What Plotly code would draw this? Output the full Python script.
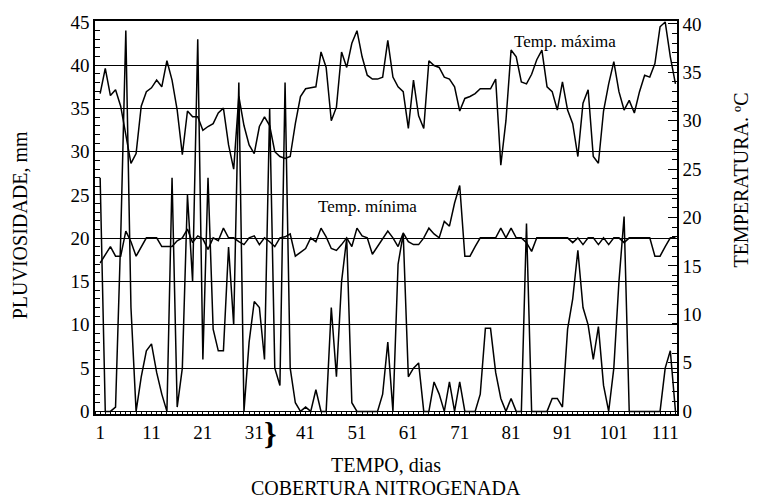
import plotly.graph_objects as go

# dias 1..113
dias = list(range(1, 114))

# pluviosidade, mm (eixo esquerdo)
chuva = [27, 0, 0, 0.5, 20, 44, 12, 0, 4, 7,
         7.8, 4.5, 2, 0, 27, 0.5, 5, 25, 15, 43,
         6, 27, 9.5, 7, 7, 19, 10, 38, 0, 8,
         12.7, 12, 6, 35, 5, 3, 38, 5, 1, 0,
         0.5, 0, 2.5, 0, 0, 12, 4, 15, 20, 1,
         0, 0, 0, 0, 0, 2, 8, 0, 17, 20.5,
         4, 5, 5.6, 0, 0, 3.4, 2, 0, 3.4, 0,
         3.4, 0, 0, 0, 2, 9.6, 9.6, 4.5, 1.5, 0,
         1.5, 0, 0, 21.7, 0, 0, 0, 0, 1.5, 1.5,
         0.5, 9.5, 13, 18.6, 12, 10, 6, 9.8, 3, 0,
         5, 15, 22.5, 0, 0, 0, 0, 0, 0, 0,
         5, 7, 0]

# temperatura maxima, C (eixo direito)
t_max = [32.8, 35.4, 32.6, 33.2, 31.5, 28.5, 25.6, 26.6, 31.5, 33.0,
         33.4, 34.2, 33.5, 36.2, 34.2, 31.1, 26.5, 31.0, 30.4, 30.4,
         29.0, 29.4, 29.7, 30.8, 31.3, 27.5, 25.0, 32.5, 29.5, 27.5,
         26.6, 29.4, 30.4, 29.5, 26.8, 26.3, 26.1, 26.3, 29.7, 32.5,
         33.3, 33.4, 33.5, 37.1, 35.5, 30.0, 31.4, 37.1, 35.5, 38.0,
         39.3, 36.6, 34.7, 34.3, 34.3, 34.5, 38.3, 34.5, 33.5, 33.0,
         29.2, 34.2, 30.5, 29.2, 36.2, 35.7, 35.5, 34.5, 34.3, 33.5,
         31.0, 32.3, 32.5, 32.8, 33.3, 33.3, 33.3, 34.3, 25.4, 30.0,
         37.3, 36.6, 34.0, 33.8, 34.8, 36.3, 37.3, 33.5, 33.0, 31.1,
         34.0, 31.1, 29.7, 26.3, 31.8, 33.2, 26.3, 25.6, 31.0, 33.8,
         36.1, 33.0, 31.1, 32.1, 30.8, 33.0, 34.7, 34.5, 35.9, 39.7,
         40.2, 36.6, 33.8]

# temperatura minima, C (eixo direito)
t_min = [15.3, 16.2, 17.0, 16.0, 16.0, 18.6, 17.5, 16.0, 17.0, 17.9,
         17.9, 17.9, 17.0, 17.0, 17.0, 17.6, 17.9, 18.8, 17.4, 18.1,
         17.8, 16.7, 17.9, 17.6, 18.9, 17.9, 17.9, 17.5, 17.2, 17.9,
         18.1, 17.2, 17.9, 17.5, 17.0, 17.9, 18.0, 18.3, 16.0, 16.4,
         16.8, 17.9, 17.5, 18.9, 18.0, 16.8, 16.6, 17.2, 17.9, 17.0,
         18.9, 18.1, 17.9, 16.2, 17.0, 17.9, 18.6, 17.9, 17.0, 18.4,
         17.5, 17.2, 17.2, 17.9, 18.9, 18.3, 17.9, 19.6, 19.1, 21.5,
         23.3, 16.0, 16.0, 17.0, 17.9, 17.9, 17.9, 17.9, 18.9, 17.9,
         18.9, 17.9, 17.9, 17.4, 16.5, 17.9, 17.9, 17.9, 17.9, 17.9,
         17.9, 17.9, 17.4, 17.9, 17.2, 17.9, 17.9, 17.2, 17.9, 17.2,
         17.9, 17.9, 17.4, 17.9, 17.9, 17.9, 17.9, 17.9, 16.0, 16.0,
         17.0, 17.9, 17.9]

x_ticks = [1, 11, 21, 31, 41, 51, 61, 71, 81, 91, 101, 111]
y_ticks = [0, 5, 10, 15, 20, 25, 30, 35, 40, 45]
y2_ticks = [0, 5, 10, 15, 20, 25, 30, 35, 40]

serif = "Liberation Serif, DejaVu Serif, serif"

fig = go.Figure()
fig.add_trace(go.Scatter(x=dias, y=chuva, mode="lines",
                         line=dict(color="black", width=1.5), yaxis="y"))
fig.add_trace(go.Scatter(x=dias, y=t_max, mode="lines",
                         line=dict(color="black", width=1.5), yaxis="y2"))
fig.add_trace(go.Scatter(x=dias, y=t_min, mode="lines",
                         line=dict(color="black", width=1.5), yaxis="y2"))

fig.update_layout(
    width=758, height=498,
    margin=dict(l=95, r=81, t=17, b=84),
    paper_bgcolor="white", plot_bgcolor="white",
    showlegend=False,
    font=dict(family=serif, size=17, color="black"),
    xaxis=dict(range=[0, 113.3], tickvals=x_ticks, ticks="",
               showgrid=False, zeroline=False,
               showline=True, linecolor="black", linewidth=1.5, mirror=True,
               minor=dict(ticks="inside", dtick=1, tick0=0, ticklen=3,
                          tickcolor="black"),
               tickfont=dict(family=serif, size=19)),
    yaxis=dict(range=[-0.3, 45.1], tickvals=y_ticks, ticks="inside",
               ticklen=6, tickcolor="black",
               showgrid=True, gridcolor="black", gridwidth=1.3,
               zeroline=False,
               showline=True, linecolor="black", linewidth=1.5,
               minor=dict(ticks="inside", dtick=1, ticklen=5,
                          tickcolor="black", showgrid=False),
               tickfont=dict(family=serif, size=19)),
    yaxis2=dict(range=[-0.3, 40.3], tickvals=y2_ticks, ticks="inside",
                ticklen=9, tickcolor="black", overlaying="y", side="right",
                showgrid=False, zeroline=False,
                showline=True, linecolor="black", linewidth=1.5,
                minor=dict(ticks="inside", dtick=1, ticklen=5,
                           tickcolor="black"),
                tickfont=dict(family=serif, size=19)),
)

# textos
fig.add_annotation(text="PLUVIOSIDADE, mm", xref="paper", yref="paper",
                   x=-0.129, y=0.48, textangle=-90, showarrow=False,
                   xanchor="center", yanchor="middle",
                   font=dict(family=serif, size=20))
fig.add_annotation(text="TEMPERATURA. ºC", xref="paper", yref="paper",
                   x=1.11, y=0.594, textangle=-90, showarrow=False,
                   xanchor="center", yanchor="middle",
                   font=dict(family=serif, size=20))
fig.add_annotation(text="TEMPO, dias", xref="paper", yref="paper",
                   x=0.5, y=-0.131, showarrow=False,
                   xanchor="center", yanchor="middle",
                   font=dict(family=serif, size=20))
fig.add_annotation(text="COBERTURA NITROGENADA", xref="paper", yref="paper",
                   x=0.5, y=-0.189, showarrow=False,
                   xanchor="center", yanchor="middle",
                   font=dict(family=serif, size=20))
fig.add_annotation(text="Temp. máxima", x=91.5, y=38.2, xref="x", yref="y2",
                   showarrow=False, font=dict(family=serif, size=17))
fig.add_annotation(text="Temp. mínima", x=53.1, y=21.1, xref="x", yref="y2",
                   showarrow=False, font=dict(family=serif, size=17))
fig.add_annotation(text="<b>}</b>", x=34.2, xref="x", yref="paper", y=-0.048,
                   xanchor="center", yanchor="middle",
                   showarrow=False, font=dict(family=serif, size=32))

# sem margem no body, para o grafico ocupar a janela inteira
fig.write_html("out.html", config={"displayModeBar": False},
               post_script="document.body.style.margin='0';"
                           "document.body.style.overflow='hidden';")
